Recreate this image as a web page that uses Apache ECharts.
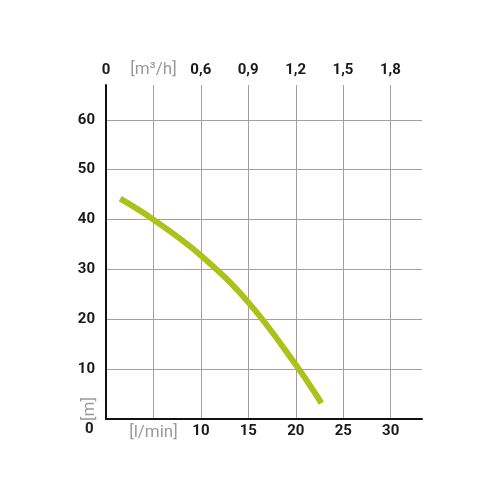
<!DOCTYPE html>
<html lang="en">
<head>
    <meta charset="UTF-8">
    <title>Pump curve</title>
    <script src="https://cdn.jsdelivr.net/npm/echarts@6/dist/echarts.min.js"></script>
    <style>
        html, body { margin: 0; padding: 0; background: #fff; }
        #chart { width: 500px; height: 500px; }
    </style>
</head>
<body>
    <div id="chart"></div>
<script>
    // flow in l/min, head in m
    let flow = [1.5, 5, 10, 15, 20, 22.7];
    let head = [44.2, 40, 32.8, 23.4, 10.9, 3.2];

    // tick labels
    let bottomLabels = ['', '[l/min]', '10', '15', '20', '25', '30'];
    let topLabels = ['0', '[m³/h]', '0,6', '0,9', '1,2', '1,5', '1,8'];
    let leftLabels = ['', '10', '20', '30', '40', '50', '60'];

    (function () {
        let myChart = echarts.init(document.getElementById('chart'));
        let font = 'Roboto';
        let textColor = '#1a1a1a';
        let unitColor = '#9a9a9a';
        let unitStyle = { fontFamily: font, fontSize: 17, fontWeight: 'normal', color: unitColor };

        function pick(labels, value, step) {
            let i = Math.round(value / step);
            let t = labels[i] || '';
            if (t.charAt(0) === '[') return '{u|' + t + '}';
            return t;
        }

        let points = [];
        for (let i = 0; i < flow.length; i++) {
            points.push([flow[i], head[i]]);
        }

        let option = {
            animation: false,
            grid: { left: 106, right: 78, top: 85, bottom: 81 },
            xAxis: [
                {
                    type: 'value',
                    position: 'bottom',
                    min: 0,
                    max: 33.3,
                    interval: 5,
                    axisLine: { show: true, onZero: false, lineStyle: { color: '#111', width: 2 } },
                    axisTick: { show: false },
                    splitLine: { show: true, showMaxLine: false, lineStyle: { color: '#a0a0a0', width: 1 } },
                    axisLabel: {
                        margin: 5,
                        showMaxLabel: false,
                        fontFamily: font, fontSize: 15, fontWeight: 'bold', color: textColor,
                        formatter: function (v) { return pick(bottomLabels, v, 5); },
                        rich: { u: unitStyle }
                    }
                },
                {
                    type: 'value',
                    position: 'top',
                    min: 0,
                    max: 2.0,
                    interval: 0.3,
                    axisLine: { show: false },
                    axisTick: { show: false },
                    splitLine: { show: false },
                    axisLabel: {
                        margin: 7,
                        showMaxLabel: false,
                        fontFamily: font, fontSize: 15, fontWeight: 'bold', color: textColor,
                        formatter: function (v) { return pick(topLabels, v, 0.3); },
                        rich: { u: unitStyle }
                    }
                }
            ],
            yAxis: {
                type: 'value',
                min: 0,
                max: 67,
                interval: 10,
                axisLine: { show: true, onZero: false, lineStyle: { color: '#111', width: 2 } },
                axisTick: { show: false },
                splitLine: { show: true, showMaxLine: false, lineStyle: { color: '#a0a0a0', width: 1 } },
                axisLabel: {
                    margin: 11,
                    showMaxLabel: false,
                    fontFamily: font, fontSize: 15, fontWeight: 'bold', color: textColor,
                    padding: [0, 0, 10, 0],
                    formatter: function (v) { return pick(leftLabels, v, 10); }
                }
            },
            graphic: [
                {
                    type: 'text',
                    left: 85, top: 422,
                    style: { text: '0', font: 'bold 15px Roboto', fill: textColor }
                },
                {
                    type: 'text',
                    x: 90, y: 409,
                    rotation: Math.PI / 2,
                    style: {
                        text: '[m]', font: '17px Roboto', fill: unitColor,
                        align: 'center', verticalAlign: 'middle'
                    }
                }
            ],
            series: [
                {
                    type: 'line',
                    xAxisIndex: 0,
                    smooth: 0.4,
                    symbol: 'none',
                    lineStyle: { color: '#abc21a', width: 6, cap: 'butt' },
                    data: points
                }
            ]
        };
        myChart.setOption(option);
    })()
</script>
</body>
</html>
